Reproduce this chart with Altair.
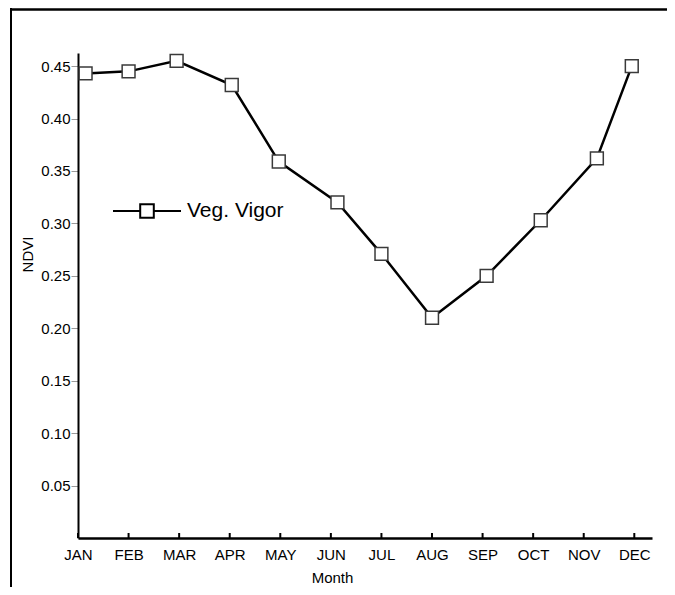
import altair as alt
import pandas as pd

# ---- data ----
months = ["JAN", "FEB", "MAR", "APR", "MAY", "JUN", "JUL", "AUG", "SEP", "OCT", "NOV", "DEC"]
month_pos = [0.15, 1.0, 1.95, 3.04, 3.97, 5.13, 6.0, 7.0, 8.08, 9.15, 10.26, 10.95]
ndvi = [0.443, 0.445, 0.455, 0.432, 0.359, 0.320, 0.271, 0.210, 0.250, 0.303, 0.362, 0.450]
series_name = "Veg. Vigor"
tick_positions = list(range(12))
y_ticks = [0.05, 0.10, 0.15, 0.20, 0.25, 0.30, 0.35, 0.40, 0.45]

FONT = "Liberation Sans"
W, H = 574, 485

df = pd.DataFrame({"pos": month_pos, "ndvi": ndvi, "series": [series_name] * len(ndvi)})
ticks_df = pd.DataFrame({"pos": tick_positions})
one = pd.DataFrame({"a": [0]})

label_expr = "[" + ",".join("'%s'" % m for m in months) + "][datum.value]"

x_scale = alt.Scale(domain=[0, 11.35], nice=False, zero=False)
y_scale = alt.Scale(domain=[0, 0.4625], nice=False)

x_axis = alt.Axis(
    values=tick_positions, labelExpr=label_expr, ticks=False, grid=False,
    domainColor="black", domainWidth=2.5, labelPadding=9, labelFontSize=15,
    labelFont=FONT, labelColor="black", labelFlush=False, labelOverlap=False,
    title="Month", titleFont=FONT, titleFontSize=15, titleFontWeight="normal",
    titleColor="black", titleX=254, titleY=39, titleBaseline="middle",
)
y_axis = alt.Axis(
    values=y_ticks, format=".2f", grid=False, tickColor="#999999", tickSize=7,
    tickWidth=1, domainColor="black", domainWidth=2, labelPadding=1,
    labelFontSize=15, labelFont=FONT, labelColor="black",
    title="NDVI", titleFont=FONT, titleFontSize=15, titleFontWeight="normal",
    titleColor="black", titleX=-51, titleY=201, titleAngle=270,
    titleBaseline="middle", titleAlign="center",
)

X = alt.X("pos:Q", scale=x_scale, axis=x_axis)
Y = alt.Y("ndvi:Q", scale=y_scale, axis=y_axis)

legend_symbol = "M-1,0H-0.2M0.2,0H1M-0.2,-0.2H0.2V0.2H-0.2Z"

line = alt.Chart(df).mark_line(color="black", strokeWidth=2.5).encode(
    x=X, y=Y,
    color=alt.Color(
        "series:N", scale=alt.Scale(range=["black"]),
        legend=alt.Legend(
            title=None, orient="none", legendX=34, legendY=123,
            symbolType=legend_symbol, symbolSize=4624, symbolStrokeWidth=2.0,
            symbolFillColor="white", symbolStrokeColor="black",
            labelFontSize=21, labelFont=FONT, labelColor="black",
            labelOffset=5, padding=0,
        ),
    ),
)

points = alt.Chart(df).mark_point(
    shape="square", filled=True, fill="white", stroke="#3a3a3a",
    strokeWidth=1.5, size=165, opacity=1,
).encode(x=X, y=Y)

xticks = alt.Chart(ticks_df).mark_rule(color="black", strokeWidth=2).encode(
    x=X, y=alt.value(H), y2=alt.value(H - 5)
)

border_top = alt.Chart(one).mark_rule(color="black", strokeWidth=2.5).encode(
    x=alt.value(-67), x2=alt.value(600), y=alt.value(-43.5)
)
border_left = alt.Chart(one).mark_rule(color="black", strokeWidth=2).encode(
    x=alt.value(-67), y=alt.value(-45), y2=alt.value(540)
)

chart = alt.layer(border_top, border_left, xticks, line, points).properties(
    width=W, height=H,
    autosize=alt.AutoSizeParams(type="none"),
    padding={"left": 70, "top": 45, "right": 15, "bottom": 49},
).configure_view(stroke=None)

chart.save("out.html", embed_options={"renderer": "svg", "actions": False})
